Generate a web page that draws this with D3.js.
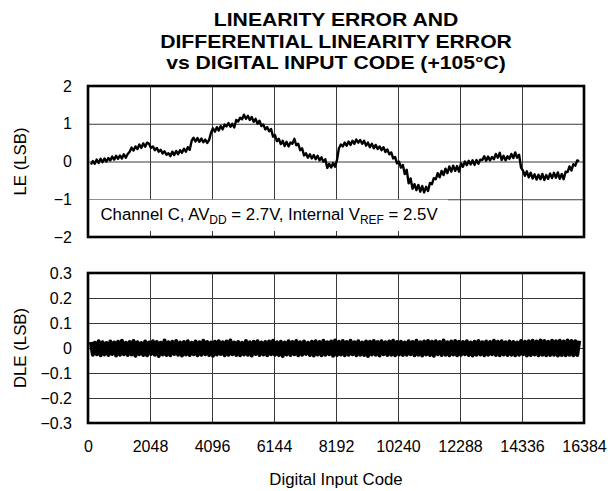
<!DOCTYPE html>
<html>
<head>
<meta charset="utf-8">
<script src="https://cdn.jsdelivr.net/npm/d3@7/dist/d3.min.js"></script>
<style>
  body { margin: 0; background: #fff; }
  svg { display: block; }
  text { font-family: "Liberation Sans", Arial, Helvetica, sans-serif; fill: #000; }
</style>
</head>
<body>
<svg id="chart" width="610" height="491"></svg>
<script>
// ---- data ----
const titleLines = [
  "LINEARITY ERROR AND",
  "DIFFERENTIAL LINEARITY ERROR",
  "vs DIGITAL INPUT CODE (+105\u00B0C)"
];
const xLabel = "Digital Input Code";
const leLabel = "LE (LSB)";
const dleLabel = "DLE (LSB)";

// Sampled input codes: first code and spacing of the plotted samples
const codeStart = 96;
const codeStep = 64;

// Linearity error (LSB) at each sampled code
const leValues = [
  -0.08, 0.01, -0.06, 0.05, -0.04, 0.07, -0.02, 0.08, 0.00, 0.09,
  0.03, 0.13, 0.05, 0.15, 0.07, 0.16, 0.08, 0.19, 0.10, 0.20,
  0.26, 0.37, 0.29, 0.40, 0.33, 0.45, 0.36, 0.48, 0.39, 0.50,
  0.47, 0.36, 0.40, 0.30, 0.36, 0.26, 0.31, 0.21, 0.27, 0.18,
  0.22, 0.14, 0.26, 0.17, 0.28, 0.19, 0.30, 0.23, 0.34, 0.26,
  0.38, 0.31, 0.55, 0.63, 0.53, 0.62, 0.52, 0.61, 0.51, 0.58,
  0.49, 0.57, 0.76, 0.88, 0.79, 0.91, 0.82, 0.94, 0.85, 0.98,
  0.93, 1.02, 0.92, 1.00, 0.90, 1.10, 1.06, 1.16, 1.12, 1.24,
  1.13, 1.21, 1.10, 1.18, 1.05, 1.13, 1.00, 1.08, 0.94, 0.98,
  0.85, 0.91, 0.80, 0.86, 0.66, 0.70, 0.54, 0.60, 0.46, 0.55,
  0.41, 0.52, 0.40, 0.50, 0.47, 0.60, 0.43, 0.47, 0.30, 0.35,
  0.16, 0.22, 0.10, 0.19, 0.08, 0.17, 0.06, 0.15, 0.03, 0.11,
  -0.01, 0.06, -0.17, -0.06, -0.16, -0.04, -0.14, 0.04, 0.35, 0.45,
  0.40, 0.50, 0.42, 0.53, 0.44, 0.55, 0.47, 0.58, 0.50, 0.57,
  0.47, 0.55, 0.42, 0.50, 0.38, 0.47, 0.35, 0.44, 0.33, 0.40,
  0.30, 0.38, 0.25, 0.32, 0.19, 0.24, 0.08, 0.12, -0.05, 0.00,
  -0.16, -0.09, -0.33, -0.22, -0.58, -0.45, -0.72, -0.60, -0.76, -0.62,
  -0.80, -0.65, -0.82, -0.67, -0.78, -0.57, -0.60, -0.44, -0.47, -0.31,
  -0.42, -0.25, -0.36, -0.19, -0.31, -0.13, -0.27, -0.11, -0.25, -0.12,
  -0.27, -0.05, -0.14, 0.00, -0.10, 0.02, -0.08, 0.03, -0.09, 0.04,
  -0.06, 0.05, 0.04, 0.14, 0.02, 0.13, 0.03, 0.12, 0.06, 0.20,
  0.10, 0.23, 0.04, 0.15, 0.03, 0.14, 0.07, 0.20, 0.09, 0.24,
  0.10, 0.18, -0.16, -0.24, -0.38, -0.26, -0.42, -0.30, -0.45, -0.34,
  -0.48, -0.35, -0.47, -0.33, -0.49, -0.36, -0.46, -0.32, -0.44, -0.30,
  -0.43, -0.29, -0.46, -0.33, -0.47, -0.27, -0.28, -0.13, -0.24, -0.07,
  -0.11, 0.03, 0.01
];

// Differential linearity error (LSB) at each sampled code
const dleValues = [
  0.024, -0.027, 0.021, -0.025, 0.027, -0.029, 0.023, -0.026, 0.020, -0.028,
  0.026, -0.024, 0.022, -0.030, 0.025, -0.027, 0.029, -0.025, 0.021, -0.028,
  0.024, -0.026, 0.028, -0.031, 0.023, -0.025, 0.020, -0.028, 0.026, -0.029,
  0.022, -0.024, 0.027, -0.027, 0.024, -0.032, 0.021, -0.026, 0.030, -0.028,
  0.023, -0.029, 0.025, -0.024, 0.028, -0.027, 0.022, -0.030, 0.024, -0.026,
  0.027, -0.028, 0.021, -0.025, 0.026, -0.029, 0.023, -0.027, 0.029, -0.025,
  0.024, -0.028, 0.022, -0.031, 0.025, -0.026, 0.027, -0.024, 0.023, -0.029,
  0.026, -0.027, 0.030, -0.025, 0.022, -0.028, 0.024, -0.029, 0.021, -0.026,
  0.028, -0.027, 0.023, -0.030, 0.025, -0.024, 0.027, -0.028, 0.022, -0.026,
  0.024, -0.029, 0.026, -0.025, 0.029, -0.027, 0.023, -0.028, 0.025, -0.032,
  0.022, -0.026, 0.027, -0.028, 0.024, -0.025, 0.028, -0.029, 0.023, -0.027,
  0.026, -0.024, 0.021, -0.028, 0.025, -0.030, 0.027, -0.026, 0.024, -0.029,
  0.029, -0.027, 0.023, -0.025, 0.026, -0.031, 0.030, -0.028, 0.025, -0.026,
  0.028, -0.029, 0.024, -0.027, 0.029, -0.025, 0.023, -0.029, 0.027, -0.027,
  0.022, -0.028, 0.026, -0.032, 0.025, -0.026, 0.028, -0.027, 0.024, -0.030,
  0.027, -0.025, 0.023, -0.028, 0.026, -0.027, 0.029, -0.029, 0.024, -0.026,
  0.025, -0.028, 0.022, -0.027, 0.027, -0.025, 0.024, -0.029, 0.029, -0.027,
  0.023, -0.030, 0.026, -0.026, 0.028, -0.028, 0.025, -0.031, 0.027, -0.025,
  0.024, -0.028, 0.030, -0.027, 0.023, -0.029, 0.026, -0.026, 0.028, -0.029,
  0.025, -0.027, 0.024, -0.025, 0.027, -0.028, 0.022, -0.030, 0.025, -0.027,
  0.028, -0.026, 0.023, -0.029, 0.026, -0.027, 0.024, -0.025, 0.029, -0.028,
  0.025, -0.029, 0.027, -0.026, 0.023, -0.028, 0.026, -0.027, 0.024, -0.029,
  0.022, -0.027, 0.028, -0.025, 0.025, -0.030, 0.027, -0.028, 0.029, -0.026,
  0.026, -0.029, 0.030, -0.027, 0.028, -0.029, 0.025, -0.028, 0.029, -0.027,
  0.027, -0.030, 0.029, -0.028, 0.026, -0.029, 0.030, -0.027, 0.028, -0.029,
  0.027, -0.028, 0.029
];

const xTicks = [0, 2048, 4096, 6144, 8192, 10240, 12288, 14336, 16384];
const leTicks = [-2, -1, 0, 1, 2];
const dleTicks = [-0.3, -0.2, -0.1, 0, 0.1, 0.2, 0.3];

// Condition note: [text, is-subscript] runs
const noteRuns = [
  ["Channel C, AV", 0], ["DD", 1], [" = 2.7V, Internal V", 0], ["REF", 1], [" = 2.5V", 0]
];

// ---- layout ----
const svg = d3.select("#chart");
const left = 88, right = 584;
const leTop = 86, leBottom = 237;
const dleTop = 273, dleBottom = 423;
const tickFont = 16;
const labelFont = 16.8;
const gridColor = "#3a3a3a";
const fontFamily = '"Liberation Sans", Arial, Helvetica, sans-serif';

const codes = leValues.map((_, i) => codeStart + i * codeStep);

const x = d3.scaleLinear().domain([0, 16384]).range([left, right]);
const yLE = d3.scaleLinear().domain([-2, 2]).range([leBottom, leTop]);
const yDLE = d3.scaleLinear().domain([-0.3, 0.3]).range([dleBottom, dleTop]);

const numFmt = v => {
  if (Math.abs(v) < 1e-9) return "0";
  return Number.isInteger(v) ? d3.format("d")(v) : d3.format(".1f")(v);
};

// ---- title (wide bold face: horizontally stretched) ----
svg.append("g")
  .selectAll("text")
  .data(titleLines)
  .join("text")
  .attr("transform", (d, i) => `translate(336,${26.3 + i * 21.2}) scale(1.12,1)`)
  .attr("text-anchor", "middle")
  .style("font-weight", "bold")
  .style("font-size", "18.9px")
  .text(d => d);

// ---- panel helper: grid + y tick labels ----
function panel(y, yTicks, top, bottom) {
  const g = svg.append("g");
  g.append("g")
    .attr("transform", `translate(0,${bottom})`)
    .call(d3.axisBottom(x).tickValues(xTicks).tickSize(-(bottom - top)).tickFormat(""))
    .call(s => s.select(".domain").remove())
    .call(s => s.selectAll("line").attr("stroke", gridColor).attr("stroke-width", 1));
  g.append("g")
    .attr("transform", `translate(${left},0)`)
    .call(d3.axisLeft(y).tickValues(yTicks).tickSize(-(right - left)).tickFormat(""))
    .call(s => s.select(".domain").remove())
    .call(s => s.selectAll("line").attr("stroke", gridColor).attr("stroke-width", 1));
  g.append("g")
    .attr("transform", `translate(${left},0)`)
    .call(d3.axisLeft(y).tickValues(yTicks).tickSize(0).tickPadding(16).tickFormat(numFmt))
    .call(s => s.select(".domain").remove())
    .call(s => s.selectAll("text")
      .style("font-size", tickFont + "px")
      .style("font-family", fontFamily)
      .attr("fill", "#000"));
  return g;
}

// ---- LE panel ----
const leG = panel(yLE, leTicks, leTop, leBottom);

// white note box over the lower band of the LE grid
const noteRight = x(11900);
leG.append("rect")
  .attr("x", left)
  .attr("y", yLE(-1) + 0.5)
  .attr("width", noteRight - left)
  .attr("height", leBottom - yLE(-1) - 0.5)
  .attr("fill", "#fff");
// inward tick marks along the bottom edge inside the note box
leG.append("g")
  .attr("transform", `translate(0,${leBottom})`)
  .call(d3.axisBottom(x).tickValues(xTicks.filter(v => x(v) < noteRight)).tickSize(-6).tickFormat(""))
  .call(s => s.select(".domain").remove())
  .call(s => s.selectAll("line").attr("stroke", gridColor).attr("stroke-width", 1));

const note = leG.append("text")
  .attr("x", 100.5)
  .attr("y", 220)
  .style("font-size", labelFont + "px");
noteRuns.forEach(([t, sub]) => {
  note.append("tspan")
    .attr("baseline-shift", sub ? "-30%" : null)
    .style("font-size", sub ? "12px" : null)
    .text(t);
});

const leLine = d3.line().x((d, i) => x(codes[i])).y(d => yLE(d));
leG.append("path")
  .datum(leValues)
  .attr("d", leLine)
  .attr("fill", "none")
  .attr("stroke", "#000")
  .attr("stroke-width", 2.4)
  .attr("stroke-linejoin", "round");

leG.append("rect")
  .attr("x", left).attr("y", leTop)
  .attr("width", right - left).attr("height", leBottom - leTop)
  .attr("fill", "none").attr("stroke", "#000").attr("stroke-width", 2.6);

// ---- DLE panel ----
const dleG = panel(yDLE, dleTicks, dleTop, dleBottom);
const dleLine = d3.line().x((d, i) => x(codes[i])).y(d => yDLE(d));
dleG.append("path")
  .datum(dleValues)
  .attr("d", dleLine)
  .attr("fill", "none")
  .attr("stroke", "#000")
  .attr("stroke-width", 4)
  .attr("stroke-linejoin", "round");

dleG.append("rect")
  .attr("x", left).attr("y", dleTop)
  .attr("width", right - left).attr("height", dleBottom - dleTop)
  .attr("fill", "none").attr("stroke", "#000").attr("stroke-width", 2.6);

// x tick labels under the DLE panel
svg.append("g")
  .attr("transform", `translate(0,${dleBottom})`)
  .call(d3.axisBottom(x).tickValues(xTicks).tickSize(0).tickPadding(18).tickFormat(d3.format("d")))
  .call(s => s.select(".domain").remove())
  .call(s => s.selectAll("text")
    .style("font-size", tickFont + "px")
    .style("font-family", fontFamily)
    .attr("fill", "#000"));

// ---- axis titles ----
svg.append("text")
  .attr("x", 336).attr("y", 485)
  .attr("text-anchor", "middle")
  .style("font-size", labelFont + "px")
  .text(xLabel);

svg.append("text")
  .attr("transform", `translate(26,${(leTop + leBottom) / 2}) rotate(-90)`)
  .attr("text-anchor", "middle")
  .style("font-size", labelFont + "px")
  .text(leLabel);

svg.append("text")
  .attr("transform", `translate(26,${(dleTop + dleBottom) / 2}) rotate(-90)`)
  .attr("text-anchor", "middle")
  .style("font-size", labelFont + "px")
  .text(dleLabel);
</script>
</body>
</html>
